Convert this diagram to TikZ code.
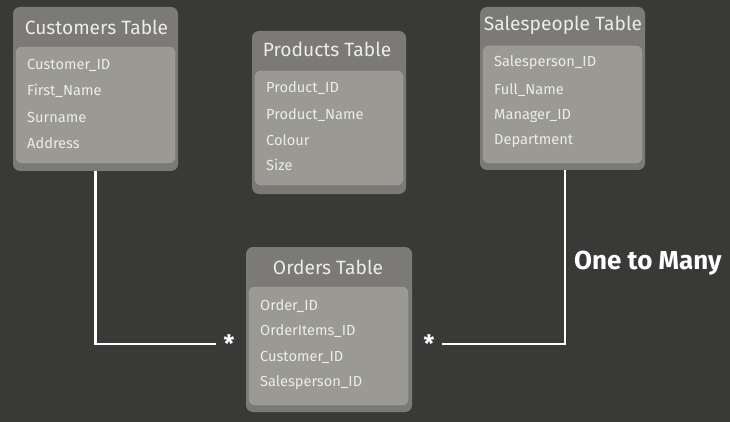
\documentclass[tikz,border=0pt]{standalone}
\usepackage{fontspec}
\setmainfont{Fira Sans}
\definecolor{bgdark}{HTML}{393937}
\definecolor{outergrey}{HTML}{7B7A77}
\definecolor{innergrey}{HTML}{9A9994}
\definecolor{innerline}{HTML}{A6A5A0}
\definecolor{textlight}{HTML}{EDEDE8}
\tikzset{
  tblouter/.style={fill=outergrey, rounded corners=7pt, inner sep=0pt},
  tblinner/.style={fill=innergrey, draw=innerline, line width=0.4pt,
                   rounded corners=6pt, inner sep=0pt},
  tbltitle/.style={text=textlight, font=\fontsize{19.2}{21}\selectfont, inner sep=0pt},
  tblrow/.style={text=textlight, font=\fontsize{14.6}{16}\selectfont, inner sep=0pt, anchor=west},
  relline/.style={draw=white, line width=2.2pt},
  starmark/.style={text=white, font=\bfseries\fontsize{24}{24}\selectfont, inner sep=7pt},
}
\begin{document}
\begin{tikzpicture}[x=1pt, y=-1pt]
    \fill[bgdark] (0,0) rectangle (730,422);
    \useasboundingbox (0,0) rectangle (730,422);
    % Customers
    \node[tblouter, minimum width=165pt, minimum height=164pt] (cust) at (95.5, 89) {};
    \node[tblinner, minimum width=159pt, minimum height=116pt] (cust-in) at (95.5, 105) {};
    \node[tbltitle] (cust-t) at (96.5, 27) {Customers Table};
    \node[tblrow] (cust-r1) at (27, 65) {Customer\_ID};
    \node[tblrow] (cust-r2) at (27, 91) {First\_Name};
    \node[tblrow] (cust-r3) at (27, 117) {Surname};
    \node[tblrow] (cust-r4) at (27, 143) {Address};
    % Products
    \node[tblouter, minimum width=154pt, minimum height=163pt] (prod) at (329, 112.5) {};
    \node[tblinner, minimum width=148pt, minimum height=114pt] (prod-in) at (329, 128) {};
    \node[tbltitle] (prod-t) at (327, 49) {Products Table};
    \node[tblrow] (prod-r1) at (266, 88) {Product\_ID};
    \node[tblrow] (prod-r2) at (266, 115) {Product\_Name};
    \node[tblrow] (prod-r3) at (266, 140) {Colour};
    \node[tblrow] (prod-r4) at (266, 165) {Size};
    % Salespeople
    \node[tblouter, minimum width=165pt, minimum height=163pt] (sales) at (562.5, 88.5) {};
    \node[tblinner, minimum width=159pt, minimum height=117pt] (sales-in) at (562.5, 104.5) {};
    \node[tbltitle] (sales-t) at (563, 25) {Salespeople Table};
    \node[tblrow] (sales-r1) at (494, 63) {Salesperson\_ID};
    \node[tblrow] (sales-r2) at (494, 90) {Full\_Name};
    \node[tblrow] (sales-r3) at (494, 116) {Manager\_ID};
    \node[tblrow] (sales-r4) at (494, 141) {Department};
    % Orders
    \node[tblouter, minimum width=166pt, minimum height=165pt] (ord) at (329, 329.5) {};
    \node[tblinner, minimum width=159pt, minimum height=118pt] (ord-in) at (328.5, 346) {};
    \node[tbltitle] (ord-t) at (328, 267) {Orders Table};
    \node[tblrow] (ord-r1) at (260, 306) {Order\_ID};
    \node[tblrow] (ord-r2) at (260, 331) {OrderItems\_ID};
    \node[tblrow] (ord-r3) at (260, 357) {Customer\_ID};
    \node[tblrow] (ord-r4) at (260, 383) {Salesperson\_ID};
    % relationships
    \node[starmark] (starL) at (229, 344) {\raisebox{-4pt}{*}};
    \node[starmark] (starR) at (429, 344) {\raisebox{-4pt}{*}};
    \draw[relline] (cust.south) |- (starL.west);
    \draw[relline] (sales.south -| 565, 0) |- (starR.east);
    \node[text=white, font=\bfseries\fontsize{26}{28}\selectfont, anchor=west, inner sep=0pt] (rel) at (574, 263) {One to Many};
\end{tikzpicture}
\end{document}
